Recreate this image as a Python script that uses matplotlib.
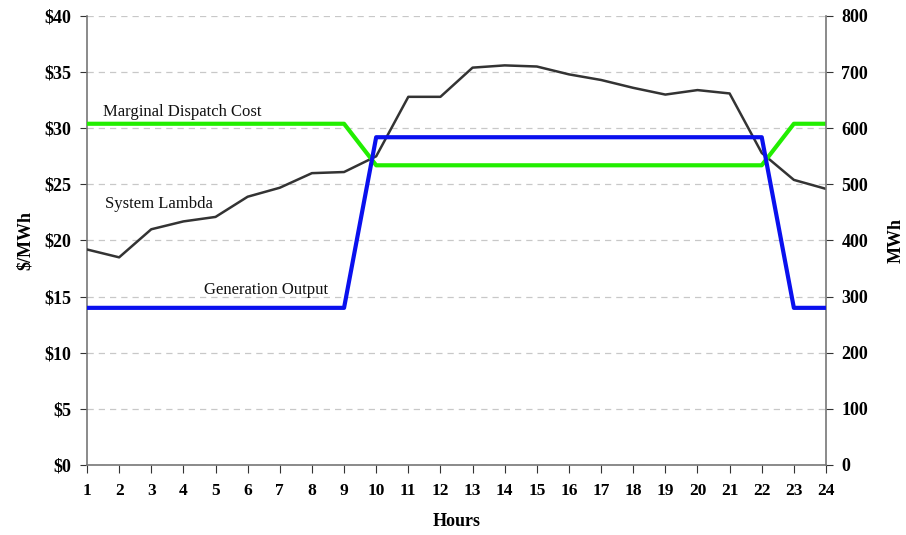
import matplotlib
matplotlib.use("Agg")
import matplotlib.pyplot as plt

hours = list(range(1, 25))
system_lambda = [19.2, 18.5, 21.0, 21.7, 22.1, 23.9, 24.7, 26.0, 26.1, 27.5, 32.8, 32.8,
                 35.4, 35.6, 35.5, 34.8, 34.3, 33.6, 33.0, 33.4, 33.1, 27.8, 25.4, 24.6]
marginal_cost = [30.4]*9 + [26.7]*13 + [30.4]*2
generation = [280]*9 + [584]*13 + [280]*2
left_ticks = [0, 5, 10, 15, 20, 25, 30, 35, 40]
left_labels = ["$" + str(v) for v in left_ticks]
right_ticks = [0, 100, 200, 300, 400, 500, 600, 700, 800]

plt.rcParams['font.family'] = ['Liberation Serif', 'DejaVu Serif']

fig = plt.figure(figsize=(9.06, 5.35), dpi=100)
ax = fig.add_axes([87/906, 1-465/535, (826-87)/906, (465-16)/535])
ax2 = ax.twinx()

ax.plot(hours, system_lambda, color='#333333', lw=1.8, zorder=3)
ax.plot(hours, marginal_cost, color='#22ee00', lw=3, zorder=4)
ax2.plot(hours, generation, color='#0a10ee', lw=3, zorder=5)

ax.set_xlim(1, 24)
ax.set_ylim(0, 40)
ax2.set_ylim(0, 800)
ax.set_xticks(hours)
ax.set_yticks(left_ticks)
ax.set_yticklabels(left_labels)
ax2.set_yticks(right_ticks)
ax.grid(axis='y', color='#c8c8c8', ls=(0, (5, 4)), lw=0.9)
ax.set_axisbelow(True)

for a in (ax, ax2):
    for s in a.spines.values():
        s.set_color('#777777')
        s.set_linewidth(1.2)
    a.spines['top'].set_visible(False)
ax.spines['right'].set_visible(False)
ax2.spines['left'].set_visible(False)
ax2.spines['bottom'].set_visible(False)

ax.tick_params(axis='x', direction='out', length=6, color='#333333', labelsize=12.5, pad=7)
ax.tick_params(axis='y', direction='out', length=5, color='#333333', labelsize=13, pad=6)
ax2.tick_params(axis='y', direction='out', length=5, color='#333333', labelsize=13, pad=6)
for lab in ax.get_xticklabels() + ax.get_yticklabels() + ax2.get_yticklabels():
    lab.set_fontweight('bold')

ax.set_xlabel("Hours", fontsize=13, fontweight='bold', labelpad=10)
ax.set_ylabel("$/MWh", fontsize=13, fontweight='bold', labelpad=8)
ax2.set_ylabel("MWh", fontsize=13, fontweight='bold', labelpad=14)

ax.text(1.5, 31.1, "Marginal Dispatch Cost", fontsize=12, color='#111111')
ax.text(1.55, 22.9, "System Lambda", fontsize=12, color='#111111')
ax.text(4.65, 15.2, "Generation Output", fontsize=12, color='#111111')

fig.savefig("out.png", dpi=100)
